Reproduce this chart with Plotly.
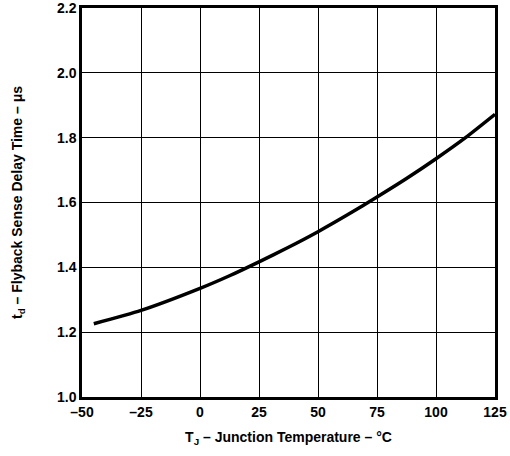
import plotly.graph_objects as go

temp_c = [-45, -25, 0, 12.5, 25, 37.5, 50, 62.5, 75, 87.5, 100, 112.5, 125]
delay_us = [1.226, 1.267, 1.335, 1.374, 1.417, 1.462, 1.51, 1.562, 1.617, 1.674, 1.735, 1.80, 1.872]

x_ticks = [-50, -25, 0, 25, 50, 75, 100, 125]
x_tick_text = ["–50", "–25", "0", "25", "50", "75", "100", "125"]
y_ticks = [1.0, 1.2, 1.4, 1.6, 1.8, 2.0, 2.2]

fam = "Liberation Sans, Arial, sans-serif"
font = dict(family=fam, size=14, color="black")

fig = go.Figure()
fig.add_trace(go.Scatter(
    x=temp_c, y=delay_us, mode="lines",
    line=dict(color="black", width=3.5, shape="spline", smoothing=0.6),
    showlegend=False, hoverinfo="skip",
))

fig.update_layout(
    width=510, height=456,
    margin=dict(l=82, r=15, t=8, b=59, autoexpand=False),
    paper_bgcolor="white", plot_bgcolor="white",
    font=font,
)
fig.update_xaxes(
    range=[-50, 125], tickvals=x_ticks,
    ticktext=["<b>%s</b>" % t for t in x_tick_text],
    showgrid=True, gridcolor="black", gridwidth=1,
    showline=True, linecolor="black", linewidth=2.5, mirror=True,
    ticks="", zeroline=False, automargin=False, ticklabeloverflow="allow",
    tickfont=dict(family=fam, size=14, color="black"),
    title=dict(text="<b>T<sub>J</sub> – Junction Temperature – °C</b>",
               font=dict(family=fam, size=14, color="black"), standoff=14),
)
fig.update_yaxes(
    range=[1.0, 2.2], tickvals=y_ticks,
    ticktext=["<b>%.1f</b>" % v for v in y_ticks],
    showgrid=True, gridcolor="black", gridwidth=1,
    showline=True, linecolor="black", linewidth=2.5, mirror=True,
    ticks="", zeroline=False, automargin=False, ticklabeloverflow="allow",
    tickfont=dict(family=fam, size=14, color="black"),
    title=dict(text="<b>t<sub>d</sub> – Flyback Sense Delay Time – μs</b>",
               font=dict(family=fam, size=14, color="black"), standoff=32),
)

fig.write_html(
    "out.html",
    config={"displayModeBar": False},
    post_script="document.body.style.margin='0';document.body.style.padding='0';",
)
